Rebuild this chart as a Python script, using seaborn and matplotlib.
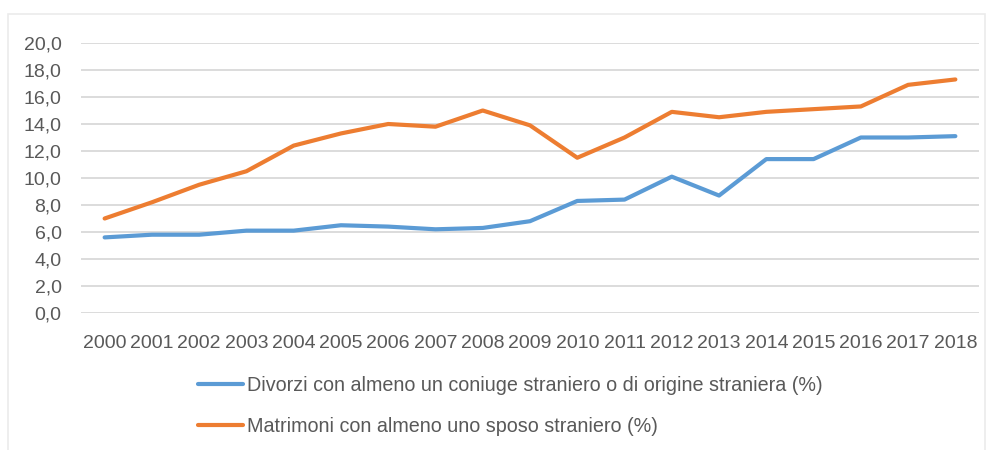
import matplotlib
matplotlib.use("Agg")
import matplotlib.pyplot as plt
import seaborn as sns
import pandas as pd
from matplotlib.patches import Rectangle

years = list(range(2000, 2019))
divorzi = [5.6, 5.8, 5.8, 6.1, 6.1, 6.5, 6.4, 6.2, 6.3, 6.8, 8.3, 8.4, 10.1, 8.7, 11.4, 11.4, 13.0, 13.0, 13.1]
matrimoni = [7.0, 8.2, 9.5, 10.5, 12.4, 13.3, 14.0, 13.8, 15.0, 13.9, 11.5, 13.0, 14.9, 14.5, 14.9, 15.1, 15.3, 16.9, 17.3]
label_div = "Divorzi con almeno un coniuge straniero o di origine straniera (%)"
label_mat = "Matrimoni con almeno uno sposo straniero (%)"
yticks = [0, 2, 4, 6, 8, 10, 12, 14, 16, 18, 20]

df = pd.DataFrame({
    "Anno": years * 2,
    "Valore": divorzi + matrimoni,
    "Serie": [label_div] * len(years) + [label_mat] * len(years),
})

sns.set_theme(style="white")
plt.rcParams["font.family"] = ["Liberation Sans", "DejaVu Sans"]

fig = plt.figure(figsize=(9.93, 4.5), dpi=100)
ax = fig.add_axes([81 / 993, 1 - 313 / 450, (979 - 81) / 993, (313 - 43) / 450])

palette = {label_div: "#5B9BD5", label_mat: "#ED7D31"}
sns.lineplot(data=df, x="Anno", y="Valore", hue="Serie", palette=palette,
             linewidth=3.0, ax=ax, legend=True)

ax.set_xlim(1999.5, 2018.5)
ax.set_ylim(0, 20)
ax.set_xticks(years)
ax.set_xticklabels([str(y) for y in years])
ax.set_yticks(yticks)
ax.set_yticklabels([f"{v:.1f}".replace(".", ",") for v in yticks])
ax.grid(axis="y", color="#D9D9D9", linewidth=1.3)
ax.set_axisbelow(True)
for s in ax.spines.values():
    s.set_visible(False)
ax.set_xlabel("")
ax.set_ylabel("")
ax.tick_params(axis="both", length=0, labelsize=14, colors="#595959")
ax.tick_params(axis="x", pad=16)
ax.tick_params(axis="y", pad=14)

handles, labels = ax.get_legend_handles_labels()
ax.get_legend().remove()
leg = fig.legend(handles, labels, loc="upper left", bbox_to_anchor=(198 / 993, 1 - 376 / 450),
                 frameon=False, fontsize=14.2, handlelength=2.3, handletextpad=0.2,
                 labelspacing=1.1, borderaxespad=0, borderpad=0)
for t in leg.get_texts():
    t.set_color("#595959")

fig.patches.append(Rectangle((8 / 993, -0.05), (985 - 8) / 993, 1.05 - 14 / 450,
                             transform=fig.transFigure, fill=False,
                             edgecolor="#EBEBEB", linewidth=1.2))

fig.savefig("out.png", dpi=100)
